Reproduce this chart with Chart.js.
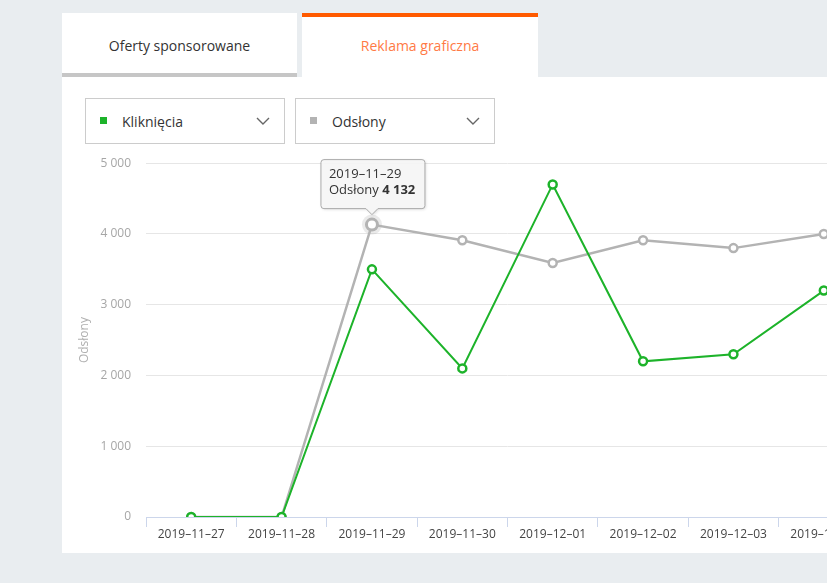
<!DOCTYPE html>
<html lang="pl">
<head>
<meta charset="UTF-8" />
<title>Reklama graficzna</title>
<script src="https://cdn.jsdelivr.net/npm/chart.js"></script>
<style>
  html, body { margin: 0; padding: 0; }
  body {
    width: 827px; height: 583px; overflow: hidden; position: relative;
    background: #e9edf0; font-family: "Open Sans", sans-serif;
  }
  .tab {
    position: absolute; top: 13px; background: #fff; box-sizing: border-box;
    text-align: center; font-size: 14px; line-height: 64px;
  }
  .tab1 { left: 62px; width: 235px; height: 64px; border-bottom: 4px solid #c6c6c6; color: #333; line-height: 66px; }
  .tab2 { left: 302px; width: 236px; height: 64px; border-top: 4px solid #ff5a00; color: #ff7a45; line-height: 58px; }
  .panel { position: absolute; left: 62px; top: 77px; width: 800px; height: 476px; background: #fff; }
  .select {
    position: absolute; top: 98px; width: 200px; height: 46px; box-sizing: border-box;
    border: 1px solid #cccccc; background: #fff; font-size: 14px; color: #333;
  }
  .select .sq { position: absolute; left: 14px; top: 18px; width: 7px; height: 7px; }
  .select .lbl { position: absolute; left: 36px; top: 13px; }
  .select svg { position: absolute; left: 170px; top: 18px; }
  #wrap { position: absolute; left: 62px; top: 141px; width: 838px; height: 412px; }
</style>
</head>
<body>
  <div class="tab tab1">Oferty sponsorowane</div>
  <div class="tab tab2">Reklama graficzna</div>
  <div class="panel"></div>
  <div class="select" style="left:85px">
    <span class="sq" style="background:#1db32a"></span>
    <span class="lbl">Kliknięcia</span>
    <svg width="14" height="8"><polyline points="1,1 7,7 13,1" fill="none" stroke="#666" stroke-width="1.4"/></svg>
  </div>
  <div class="select" style="left:295px">
    <span class="sq" style="background:#b3b3b3"></span>
    <span class="lbl">Odsłony</span>
    <svg width="14" height="8"><polyline points="1,1 7,7 13,1" fill="none" stroke="#666" stroke-width="1.4"/></svg>
  </div>
  <div id="wrap"><canvas id="chart"></canvas></div>

<script>
const dates = ['2019–11–27', '2019–11–28', '2019–11–29', '2019–11–30', '2019–12–01', '2019–12–02', '2019–12–03', '2019–12–04'];
const klikniecia = [0, 0, 3500, 2100, 4700, 2200, 2300, 3200];
const odslony = [0, 0, 4132, 3910, 3590, 3910, 3800, 4000];
const yTicks = [0, 1000, 2000, 3000, 4000, 5000];
const hoverIndex = 2;

const fmt = v => String(v).replace(/\B(?=(\d{3})+(?!\d))/g, ' ');

// podświetlony punkt + dymek
const tooltipPlugin = {
  id: 'staticTip',
  beforeDatasetsDraw(chart) {
    const pt = chart.getDatasetMeta(1).data[hoverIndex];
    const ctx = chart.ctx;
    ctx.save();
    ctx.beginPath();
    ctx.arc(pt.x, pt.y, 10, 0, Math.PI * 2);
    ctx.fillStyle = 'rgba(170,170,170,0.25)';
    ctx.fill();
    ctx.restore();
  },
  afterDatasetsDraw(chart) {
    const pt = chart.getDatasetMeta(1).data[hoverIndex];
    const ctx = chart.ctx;
    const w = 104, h = 49;
    const x = pt.x - 51, y = pt.y - 65;
    ctx.save();
    ctx.shadowColor = 'rgba(0,0,0,0.15)';
    ctx.shadowBlur = 3;
    ctx.shadowOffsetX = 1;
    ctx.shadowOffsetY = 1;
    ctx.beginPath();
    ctx.moveTo(x + 3, y);
    ctx.lineTo(x + w - 3, y);
    ctx.quadraticCurveTo(x + w, y, x + w, y + 3);
    ctx.lineTo(x + w, y + h - 3);
    ctx.quadraticCurveTo(x + w, y + h, x + w - 3, y + h);
    ctx.lineTo(pt.x + 6, y + h);
    ctx.lineTo(pt.x, y + h + 6);
    ctx.lineTo(pt.x - 6, y + h);
    ctx.lineTo(x + 3, y + h);
    ctx.quadraticCurveTo(x, y + h, x, y + h - 3);
    ctx.lineTo(x, y + 3);
    ctx.quadraticCurveTo(x, y, x + 3, y);
    ctx.closePath();
    ctx.fillStyle = 'rgba(247,247,247,0.95)';
    ctx.fill();
    ctx.shadowColor = 'transparent';
    ctx.strokeStyle = '#aaaaaa';
    ctx.lineWidth = 1;
    ctx.stroke();
    ctx.fillStyle = '#333';
    ctx.textBaseline = 'middle';
    ctx.font = '13px "Open Sans"';
    ctx.fillText(dates[hoverIndex], x + 8, y + 15);
    const lbl = 'Odsłony ';
    ctx.fillText(lbl, x + 8, y + 31);
    const lw = ctx.measureText(lbl).width;
    ctx.font = 'bold 13px "Open Sans"';
    ctx.fillText(fmt(odslony[hoverIndex]), x + 8 + lw, y + 31);
    ctx.restore();
  }
};

new Chart(document.getElementById('chart'), {
  type: 'line',
  data: {
    labels: dates,
    datasets: [
      {
        label: 'Kliknięcia',
        data: klikniecia,
        borderColor: '#1db32a',
        borderWidth: 2,
        pointBackgroundColor: '#fff',
        pointBorderColor: '#1db32a',
        pointBorderWidth: 2.5,
        pointRadius: 4,
        tension: 0
      },
      {
        label: 'Odsłony',
        data: odslony,
        borderColor: '#b3b3b3',
        borderWidth: 2.5,
        pointBackgroundColor: '#fff',
        pointBorderColor: '#b3b3b3',
        pointBorderWidth: c => c.dataIndex === hoverIndex ? 3 : 2.5,
        pointRadius: c => c.dataIndex === hoverIndex ? 5.5 : 4,
        tension: 0
      }
    ]
  },
  options: {
    responsive: true,
    maintainAspectRatio: false,
    animation: false,
    events: [],
    layout: { padding: { top: 0, right: 31, bottom: 0, left: 0 } },
    plugins: { legend: { display: false }, tooltip: { enabled: false } },
    scales: {
      x: {
        offset: true,
        afterFit: s => { s.height = 36; },
        grid: { offset: true, drawOnChartArea: false, drawTicks: true, tickLength: 10, color: '#ccd6eb' },
        border: { display: true, color: '#ccd6eb', width: 1 },
        ticks: { color: '#444', padding: 0, maxRotation: 0, autoSkip: false, font: { family: 'Open Sans', size: 12 } }
      },
      y: {
        min: 0,
        max: 5000,
        afterFit: s => { s.width = 84; },
        afterBuildTicks: s => { s.ticks = yTicks.map(v => ({ value: v })); },
        grid: { color: '#e6e6e6', drawTicks: false },
        border: { display: false },
        title: { display: true, text: 'Odsłony', color: '#b0b0b0', padding: { top: 15 }, font: { family: 'Open Sans', size: 12 } },
        ticks: { color: '#a6a6a6', padding: 15, callback: v => fmt(v), font: { family: 'Open Sans', size: 12 } }
      }
    }
  },
  plugins: [tooltipPlugin]
});
</script>
</body>
</html>
